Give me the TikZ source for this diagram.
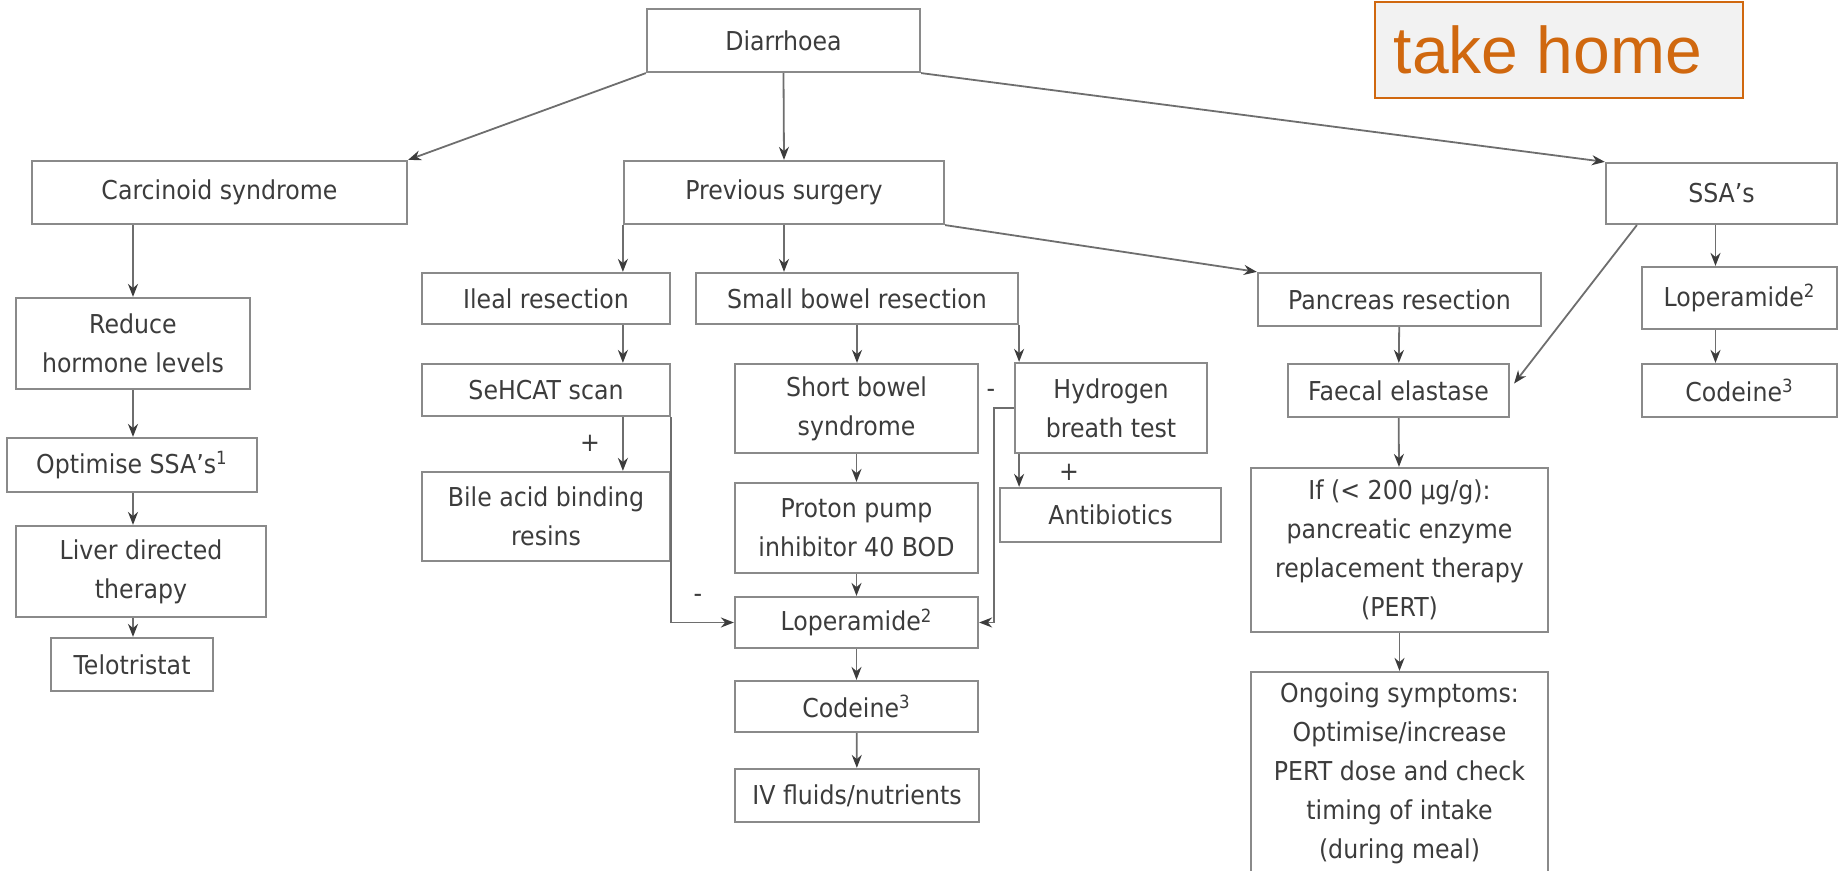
\documentclass[tikz,border=0pt]{standalone}
\usepackage{fontspec}
\setmainfont{DejaVu Sans}[FakeStretch=0.91]
\newfontfamily\homefont{Liberation Sans}
\usetikzlibrary{arrows.meta,calc}
\definecolor{boxline}{HTML}{8A8A8A}
\definecolor{arrline}{HTML}{6E6E6E}
\definecolor{txt}{HTML}{3C3C3C}
\definecolor{homeorange}{HTML}{D0680F}
\definecolor{homefill}{HTML}{F2F2F2}

\begin{document}
\begin{tikzpicture}[x=0.5pt,y=-0.5pt,
		box/.style={draw=boxline,line width=1.1pt,inner sep=0pt,align=center,text=txt,font=\fontsize{13}{19.5}\selectfont},
		wh/.style 2 args={minimum width=#1*0.5pt,minimum height=#2*0.5pt},
		arr/.style={draw=arrline,line width=0.9pt,-{Stealth[length=6.5pt,width=5pt,color=txt]}},
		sign/.style={text=txt,font=\fontsize{13}{19.5}\selectfont,inner sep=0pt}]
			\useasboundingbox (0,0) rectangle (1838,871);

			\node[box,wh={273}{63}] (diar) at (783.5,40.5) {Diarrhoea};
			\node[draw=homeorange,fill=homefill,line width=1pt,wh={368}{96},inner sep=0pt] (home) at (1559,50) {};
			\node[text=homeorange,font=\homefont\fontsize{33}{33}\selectfont,inner sep=0pt] (hometxt) at (1548,50) {take home};

			\node[box,wh={375}{63}] (carc) at (219.5,192.5) {Carcinoid syndrome};
			\node[box,wh={320}{63}] (prev) at (784,192.5) {Previous surgery};
			\node[box,wh={231}{61}] (ssa) at (1721.5,193.5) {SSA’s};

			\node[box,wh={234}{91}] (reduce) at (133,343.5) {Reduce\\hormone levels};
			\node[box,wh={250}{54}] (optim) at (132,465) {Optimise SSA’s\textsuperscript{1}};
			\node[box,wh={250}{91}] (liver) at (141,571.5) {Liver directed\\therapy};
			\node[box,wh={162}{53}] (telo) at (132,664.5) {Telotristat};

			\node[box,wh={248}{51}] (ileal) at (546,298.5) {Ileal resection};
			\node[box,wh={248}{52}] (sehcat) at (546,390) {SeHCAT scan};
			\node[box,wh={248}{89}] (bile) at (546,516.5) {Bile acid binding\\resins};

			\node[box,wh={322}{51}] (small) at (857,298.5) {Small bowel resection};
			\node[box,wh={243}{89}] (short) at (856.5,408.5) {Short bowel\\syndrome};
			\node[box,wh={243}{90}] (proton) at (856.5,528) {Proton pump\\inhibitor 40 BOD};
			\node[box,wh={243}{51}] (lope) at (856.5,622.5) {Loperamide\textsuperscript{2}};
			\node[box,wh={243}{51}] (cod) at (856.5,706.5) {Codeine\textsuperscript{3}};
			\node[box,wh={244}{53}] (iv) at (857,795.5) {IV fluids/nutrients};

			\node[box,wh={192}{90}] (hydro) at (1111,408) {Hydrogen\\breath test};
			\node[box,wh={221}{54}] (anti) at (1110.5,515) {Antibiotics};

			\node[box,wh={283}{53}] (panc) at (1399.5,299.5) {Pancreas resection};
			\node[box,wh={221}{53}] (faecal) at (1398.5,390.5) {Faecal elastase};
			\node[box,wh={297}{164}] (ifbox) at (1399.5,550) {If (< 200 μg/g):\\pancreatic enzyme\\replacement therapy\\(PERT)};
			\node[box,wh={297}{202}] (ongo) at (1399.5,773) {Ongoing symptoms:\\Optimise/increase\\PERT dose and check\\timing of intake\\(during meal)};

			\node[box,wh={195}{62}] (slope) at (1739.5,298) {Loperamide\textsuperscript{2}};
			\node[box,wh={195}{53}] (scod) at (1739.5,390.5) {Codeine\textsuperscript{3}};

			\node[sign] (plusbile) at (590,443) {+};
			\node[sign] (minuslope) at (698,598) {-};
			\node[sign] (minushyd) at (991,393) {-};
			\node[sign] (plusanti) at (1069,472) {+};

			\coordinate (ssax) at ($(ssa.south)+(-6,0)$);

			\draw[arr] (diar.south west) -- (carc.north east);
			\draw[arr] (diar.south) -- (prev.north);
			\draw[arr] (diar.south east) -- (ssa.north west);

			\draw[arr] (reduce.north |- carc.south) -- (reduce.north);
			\draw[arr] (reduce.south) -- (reduce.south |- optim.north);
			\draw[arr] (reduce.south |- optim.south) -- (reduce.south |- liver.north);
			\draw[arr] (reduce.south |- liver.south) -- (reduce.south |- telo.north);

			\draw[arr] (prev.south west) -- (prev.south west |- ileal.north);
			\draw[arr] (prev.south west |- ileal.south) -- (prev.south west |- sehcat.north);
			\draw[arr] (prev.south west |- sehcat.south) -- (prev.south west |- bile.north);
			\draw[arr] (sehcat.south east) |- (lope.west);

			\draw[arr] (prev.south) -- (prev.south |- small.north);
			\draw[arr] (small.south) -- (small.south |- short.north);
			\draw[arr] (short) -- (proton);
			\draw[arr] (proton) -- (lope);
			\draw[arr] (lope) -- (cod);
			\draw[arr] (cod) -- (iv);
			\draw[arr] (small.south east) -- (small.south east |- hydro.north);
			\draw[arr] (hydro.west) -- ++(-20,0) |- (lope.east);
			\draw[arr] (small.south east |- hydro.south) -- (small.south east |- anti.north);

			\draw[arr] (prev.south east) -- (panc.north west);
			\draw[arr] (panc) -- (faecal);
			\draw[arr] (faecal) -- (ifbox);
			\draw[arr] (ifbox) -- (ongo);

			\draw[arr] ($(ssa.south west)+(32,0)$) -- ($(faecal.east)+(4,-7)$);
			\draw[arr] (ssax) -- (ssax |- slope.north);
			\draw[arr] (ssax |- slope.south) -- (ssax |- scod.north);
		\end{tikzpicture}
\end{document}
